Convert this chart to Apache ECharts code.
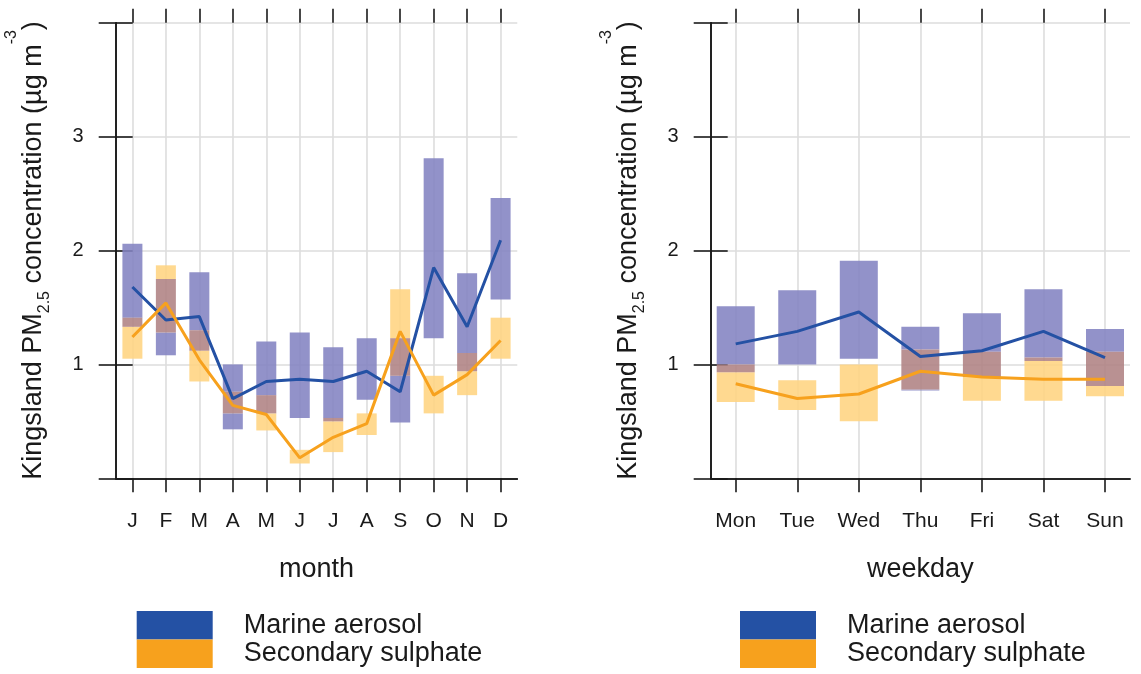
<!DOCTYPE html>
<html>
<head>
<meta charset="utf-8">
<script src="https://cdn.jsdelivr.net/npm/echarts@6/dist/echarts.min.js"></script>
<style>
  html, body { margin: 0; padding: 0; background: #ffffff; }
  #chart { width: 1141px; height: 674px; }
</style>
</head>
<body>
<div id="chart"></div>
<script>
// ---- data ----
const months = ['J', 'F', 'M', 'A', 'M', 'J', 'J', 'A', 'S', 'O', 'N', 'D'];
const weekdays = ['Mon', 'Tue', 'Wed', 'Thu', 'Fri', 'Sat', 'Sun'];
const yTicks = [0, 1, 2, 3, 4];

// Marine aerosol by month: mean and interval
const marineMonthMean = [1.68, 1.39, 1.42, 0.70, 0.85, 0.87, 0.85, 0.94, 0.76, 1.85, 1.33, 2.09];
const marineMonthLow  = [1.33, 1.08, 1.12, 0.43, 0.57, 0.53, 0.50, 0.69, 0.49, 1.23, 0.94, 1.57];
const marineMonthHigh = [2.06, 1.75, 1.81, 1.00, 1.20, 1.28, 1.15, 1.23, 1.23, 2.81, 1.80, 2.46];

// Secondary sulphate by month
const sulphateMonthMean = [1.24, 1.54, 1.04, 0.64, 0.56, 0.18, 0.36, 0.48, 1.29, 0.73, 0.91, 1.21];
const sulphateMonthLow  = [1.05, 1.28, 0.85, 0.57, 0.42, 0.13, 0.23, 0.38, 0.90, 0.57, 0.73, 1.05];
const sulphateMonthHigh = [1.41, 1.87, 1.30, 0.76, 0.73, 0.25, 0.53, 0.57, 1.66, 0.90, 1.10, 1.41];

// Marine aerosol by weekday
const marineDayMean = [1.18, 1.29, 1.46, 1.07, 1.12, 1.29, 1.06];
const marineDayLow  = [0.93, 1.00, 1.05, 0.77, 0.89, 1.03, 0.81];
const marineDayHigh = [1.51, 1.65, 1.91, 1.33, 1.45, 1.66, 1.31];

// Secondary sulphate by weekday
const sulphateDayMean = [0.83, 0.70, 0.74, 0.94, 0.89, 0.87, 0.87];
const sulphateDayLow  = [0.67, 0.60, 0.50, 0.78, 0.68, 0.68, 0.72];
const sulphateDayHigh = [1.00, 0.86, 1.00, 1.13, 1.11, 1.06, 1.11];

const seriesNames = ['Marine aerosol', 'Secondary sulphate'];

// ---- styling ----
const FONT = 'Liberation Sans, Arial, sans-serif';
const INK = '#1a1a1a';
const GRID_GRAY = '#dddddd';
const LINE_BLUE = '#2451a4';
const LINE_ORANGE = '#f7a11d';
const BAR_ALPHA = 0.88;
const BAR_BLUE = '#8383c2';
const BAR_ORANGE = '#ffd481';
const BAR_MIX = '#af8283';
const PLOT_TOP = 22.7;
const PLOT_HEIGHT = 455.6;

const panels = [
  {
    cats: months, axisName: 'month',
    frame: { left: 115.7, width: 401.6 }, inner: { left: 132.4, width: 368.2 },
    barWidth: 20, legendLeft: 136.7,
    marine: [marineMonthMean, marineMonthLow, marineMonthHigh],
    sulphate: [sulphateMonthMean, sulphateMonthLow, sulphateMonthHigh]
  },
  {
    cats: weekdays, axisName: 'weekday',
    frame: { left: 710.7, width: 419.3 }, inner: { left: 735.7, width: 369.3 },
    barWidth: 38, legendLeft: 740,
    marine: [marineDayMean, marineDayLow, marineDayHigh],
    sulphate: [sulphateDayMean, sulphateDayLow, sulphateDayHigh]
  }
];

// axis title with subscript and superscript parts
const yTitle = '{t|Kingsland PM}{sub|2.5}{t| concentration (µg m}{sup|-3}{t|)}';

// Split two vertical ranges into non-overlapping pieces (blue-only, orange-only, shared)
function rangePieces(aLo, aHi, bLo, bHi) {
  const out = [];
  const oLo = Math.max(aLo, bLo), oHi = Math.min(aHi, bHi);
  if (oLo < oHi) {
    if (aLo < oLo) out.push([aLo, oLo, BAR_BLUE]);
    if (aHi > oHi) out.push([oHi, aHi, BAR_BLUE]);
    if (bLo < oLo) out.push([bLo, oLo, BAR_ORANGE]);
    if (bHi > oHi) out.push([oHi, bHi, BAR_ORANGE]);
    out.push([oLo, oHi, BAR_MIX]);
  } else {
    out.push([aLo, aHi, BAR_BLUE]);
    out.push([bLo, bHi, BAR_ORANGE]);
  }
  return out;
}

function makeRenderItem(barWidth) {
  return function (params, api) {
    const idx = api.value(0);
    const pieces = rangePieces(api.value(1), api.value(2), api.value(3), api.value(4));
    return {
      type: 'group',
      children: pieces.map(function (p) {
        const lo = api.coord([idx, p[0]]);
        const hi = api.coord([idx, p[1]]);
        return {
          type: 'rect',
          shape: { x: hi[0] - barWidth / 2, y: hi[1], width: barWidth, height: lo[1] - hi[1] },
          style: { fill: p[2], opacity: BAR_ALPHA }
        };
      })
    };
  };
}

const grid = [], xAxis = [], yAxis = [], series = [], legend = [];

panels.forEach(function (p, pi) {
  const frameGrid = grid.length;
  grid.push({ left: p.frame.left, width: p.frame.width, top: PLOT_TOP, height: PLOT_HEIGHT, containLabel: false });
  const dataGrid = grid.length;
  grid.push({ left: p.inner.left, width: p.inner.width, top: PLOT_TOP, height: PLOT_HEIGHT, containLabel: false });

  // frame top / bottom edges
  ['top', 'bottom'].forEach(function (pos) {
    xAxis.push({
      type: 'value', gridIndex: frameGrid, position: pos, min: 0, max: 1, z: 3,
      axisLine: { show: true, lineStyle: { color: INK, width: 1.6 } },
      axisTick: { show: false }, axisLabel: { show: false }, splitLine: { show: false }
    });
  });

  // category axis with labels, ticks and vertical grid lines
  const dataX = xAxis.length;
  xAxis.push({
    type: 'category', gridIndex: dataGrid, position: 'bottom', data: p.cats, boundaryGap: false,
    axisLine: { show: false },
    axisTick: { show: true, inside: false, length: 14, interval: 0, lineStyle: { color: INK, width: 1.6 } },
    axisLabel: { show: true, interval: 0, margin: 32, fontSize: 21, fontFamily: FONT, color: INK },
    splitLine: { show: true, interval: 0, lineStyle: { color: GRID_GRAY, width: 1.6 } },
    name: p.axisName, nameLocation: 'middle', nameGap: 78,
    nameTextStyle: { fontSize: 27, fontFamily: FONT, color: INK }
  });
  xAxis.push({
    type: 'category', gridIndex: dataGrid, position: 'top', data: p.cats, boundaryGap: false,
    axisLine: { show: false },
    axisTick: { show: true, inside: false, length: 14, interval: 0, lineStyle: { color: INK, width: 1.6 } },
    axisLabel: { show: false }, splitLine: { show: false }
  });

  // frame left / right with ticks
  yAxis.push({
    type: 'value', gridIndex: frameGrid, position: 'left', min: yTicks[0], max: yTicks[yTicks.length - 1], interval: 1,
    axisLine: { show: true, lineStyle: { color: INK, width: 1.6 } },
    axisTick: { show: true, inside: false, length: 17, lineStyle: { color: INK, width: 1.6 } },
    axisLabel: {
      show: true, margin: 32, fontSize: 20, fontFamily: FONT, color: INK,
      formatter: function (v) { return (v === yTicks[0] || v === yTicks[yTicks.length - 1]) ? '' : String(v); }
    },
    splitLine: { show: true, lineStyle: { color: GRID_GRAY, width: 1.6 } },
    name: yTitle, nameLocation: 'middle', nameRotate: 90, nameGap: 42,
    nameTextStyle: {
      color: INK, fontFamily: FONT,
      rich: {
        t: { fontSize: 27, lineHeight: 80, fontFamily: FONT, color: INK },
        sub: { fontSize: 16, padding: [21, 0, 0, 0], fontFamily: FONT, color: INK },
        sup: { fontSize: 16, padding: [0, 0, 45, 0], fontFamily: FONT, color: INK }
      }
    }
  });
  yAxis.push({
    type: 'value', gridIndex: frameGrid, position: 'right', min: yTicks[0], max: yTicks[yTicks.length - 1], interval: 1,
    axisLine: { show: true, lineStyle: { color: INK, width: 1.6 } },
    axisTick: { show: true, inside: false, length: 17, lineStyle: { color: INK, width: 1.6 } },
    axisLabel: { show: false }, splitLine: { show: false }
  });
  const dataY = yAxis.length;
  yAxis.push({
    type: 'value', gridIndex: dataGrid, min: yTicks[0], max: yTicks[yTicks.length - 1], show: false
  });

  // interval bars
  series.push({
    type: 'custom', name: 'range-' + pi, xAxisIndex: dataX, yAxisIndex: dataY, silent: true,
    renderItem: makeRenderItem(p.barWidth),
    encode: { x: 0, y: [1, 2, 3, 4] },
    data: p.cats.map(function (c, i) {
      return [i, p.marine[1][i], p.marine[2][i], p.sulphate[1][i], p.sulphate[2][i]];
    })
  });
  // mean lines
  [[p.marine, LINE_BLUE, seriesNames[0]], [p.sulphate, LINE_ORANGE, seriesNames[1]]].forEach(function (s) {
    series.push({
      type: 'line', name: s[2], xAxisIndex: dataX, yAxisIndex: dataY,
      data: s[0][0], showSymbol: false, symbol: 'none', color: s[1],
      lineStyle: { color: s[1], width: 3 }, silent: true, animation: false
    });
  });

  legend.push({
    show: true, data: seriesNames, orient: 'vertical', left: p.legendLeft, top: 611,
    padding: 0, itemGap: 0, itemWidth: 76, itemHeight: 28.5, icon: 'rect', selectedMode: false,
    textStyle: { fontSize: 27, lineHeight: 28.5, fontFamily: FONT, color: INK, padding: [0, 0, 0, 26] }
  });
});

const chart = echarts.init(document.getElementById('chart'), null, { renderer: 'canvas' });
chart.setOption({
  animation: false,
  backgroundColor: '#ffffff',
  grid: grid, xAxis: xAxis, yAxis: yAxis, series: series, legend: legend
});
</script>
</body>
</html>
